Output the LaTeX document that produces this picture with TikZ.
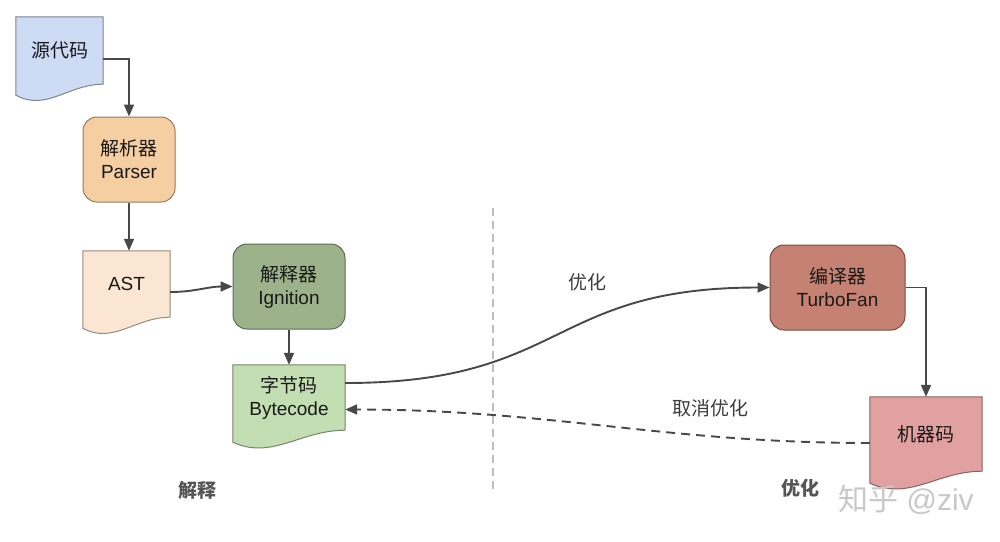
\documentclass[tikz,border=0pt]{standalone}
\usepackage{fontspec}
\setmainfont{Liberation Sans}
\newfontfamily\cjk{Noto Sans CJK SC}
\usetikzlibrary{arrows.meta,calc,backgrounds}
\definecolor{cSrc}{RGB}{206,219,245}
\definecolor{cParser}{RGB}{245,206,162}
\definecolor{cAst}{RGB}{250,230,211}
\definecolor{cIgn}{RGB}{156,178,139}
\definecolor{cByte}{RGB}{196,222,179}
\definecolor{cTurbo}{RGB}{197,129,113}
\definecolor{cMc}{RGB}{226,161,161}
\definecolor{lineC}{RGB}{72,72,72}
\definecolor{txtC}{RGB}{25,25,25}
\definecolor{lblC}{RGB}{60,60,60}
\definecolor{boldC}{RGB}{85,85,85}
\definecolor{sepC}{RGB}{190,190,190}
\definecolor{wmC}{RGB}{200,200,200}
\newcommand\vdocshape[3]{%
  \draw[line width=1pt, draw=#2!60!black, fill=#2]
    (#1.north west) -- (#1.north east) -- (#1.south east)
    .. controls ($(#1.south west)!0.6!(#1.south east)$) and ($(#1.south west)!0.35!(#1.south east)+(0,{2.5*#3})$)
    .. ($(#1.south west)+(0,#3)$) -- cycle;}
\begin{document}
\begin{tikzpicture}[x=1pt,y=-1pt,
  every node/.style={font=\fontsize{19}{23}\selectfont, align=center, inner sep=0pt, text=txtC},
  box/.style={rectangle, rounded corners=14pt, draw=#1!60!black, fill=#1, line width=1pt},
  docnode/.style={rectangle},
  arr/.style={draw=lineC, line width=1.9pt, -{Triangle[length=12pt,width=10pt]}},
  lbl/.style={text=lblC},
  boldlbl/.style={text=boldC, font=\fontsize{19}{23}\selectfont\bfseries},
  sepline/.style={draw=sepC, line width=1.2pt, dash pattern=on 8pt off 5pt},
]
\useasboundingbox (0,0) rectangle (1000,541);

% document-shaped nodes
\node[docnode, minimum width=87pt, minimum height=67pt] (src) at (59.5,50.5) {\cjk 源代码};
\node[docnode, minimum width=87pt, minimum height=66pt] (ast) at (126.5,284) {AST};
\node[docnode, minimum width=112pt, minimum height=65pt] (bytecode) at (289,397.5) {{\cjk 字节码}\\Bytecode};
\node[docnode, minimum width=112pt, minimum height=74pt] (mc) at (926,434) {\cjk 机器码};
\begin{scope}[on background layer]
  \fill[white] (0,0) rectangle (1000,541);
  \vdocshape{src}{cSrc}{11}
  \vdocshape{ast}{cAst}{11}
  \vdocshape{bytecode}{cByte}{12}
  \vdocshape{mc}{cMc}{12}
\end{scope}

% rounded boxes
\node[box=cParser, minimum width=92pt, minimum height=85pt] (parser) at (129,159.5) {{\cjk 解析器}\\Parser};
\node[box=cIgn, minimum width=112pt, minimum height=85pt] (ignition) at (289,286.5) {{\cjk 解释器}\\Ignition};
\node[box=cTurbo, minimum width=135pt, minimum height=85pt] (turbo) at (837.5,287.5) {{\cjk 编译器}\\TurboFan};

% separator
\coordinate (septop) at (493,208);
\coordinate (sepbot) at (493,490);
\draw[sepline] (septop) -- (sepbot);

% connectors
\draw[arr] ([yshift=-8.5pt]src.east) -| (parser.north);
\draw[arr] (parser.south) -- (parser.south |- ast.north);
\draw[arr] ([yshift=-8pt]ast.east) to[out=0,in=180] (ignition.west);
\draw[arr] (ignition.south) -- (bytecode.north);
\draw[arr] ([yshift=14.5pt]bytecode.east) to[out=0,in=180,looseness=1.3] (turbo.west);
\draw[arr] (turbo.east) -| (mc.north);
\draw[arr, dash pattern=on 9pt off 6pt] ([yshift=-9pt]mc.west) to[out=180,in=0] ([yshift=-12pt]bytecode.east);

% labels
\node[lbl] (lopt) at (587,282) {\cjk 优化};
\node[lbl] (ldeopt) at (710,408) {\cjk 取消优化};
\node[boldlbl] (linterp) at (197,490) {\cjk\bfseries 解释};
\node[boldlbl] (lcomp) at (800,488) {\cjk\bfseries 优化};
\node[text=wmC, font=\fontsize{30}{30}\selectfont] (wm) at (906,500) {{\cjk 知乎} @ziv};
\end{tikzpicture}
\end{document}
